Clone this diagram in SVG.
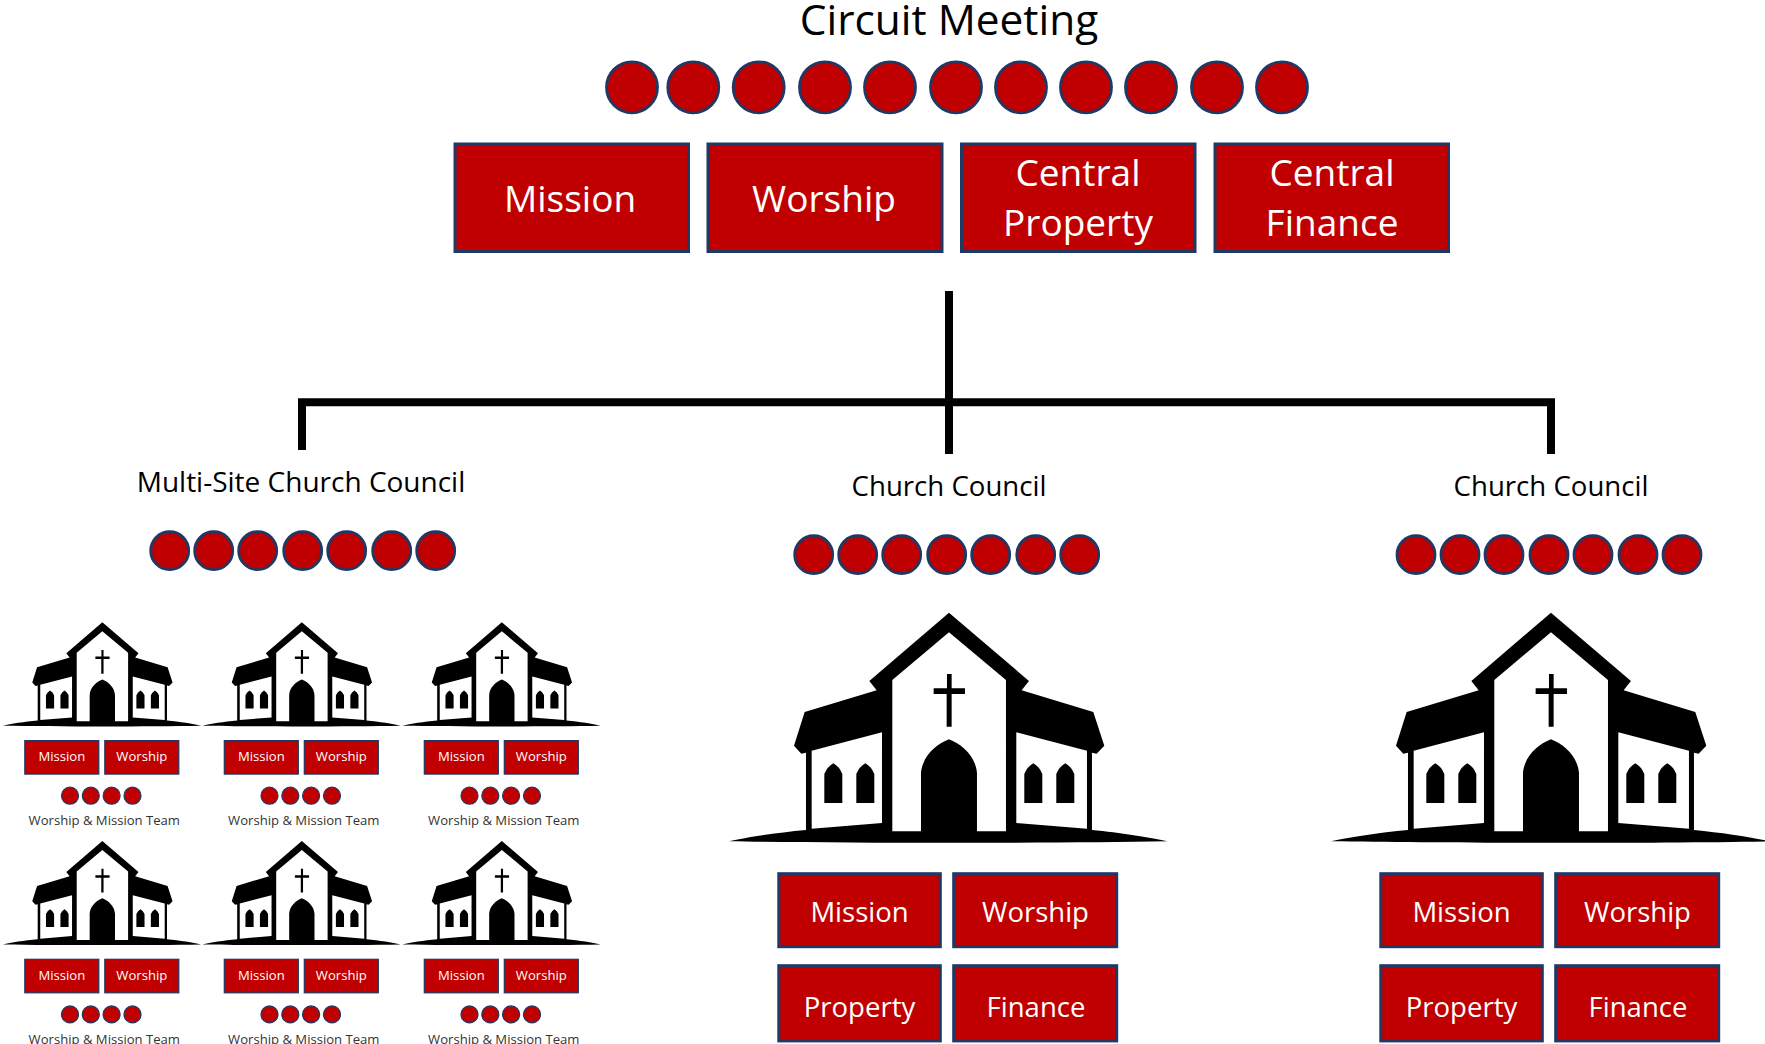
<svg xmlns="http://www.w3.org/2000/svg" xmlns:xlink="http://www.w3.org/1999/xlink" width="1765" height="1044" viewBox="0 0 1765 1044">
<style>
text{font-family:"Open Sans","Noto Sans","Liberation Sans",sans-serif;text-anchor:middle}
.b{fill:#c00000;stroke:#1f3864;stroke-width:3}
.s{fill:#c00000;stroke:#1f3864;stroke-width:1.2}
.c{fill:#c00000;stroke:#1f3864;stroke-width:2.8}
.w{fill:#fff}
.k{fill:#000}
.line{fill:none;stroke:#000;stroke-width:8}
.t37{font-size:37px;fill:#fff}
.t27{font-size:27.500px;fill:#fff}
.t13{font-size:13.100px;fill:#fff}
</style>
<defs>
<g id="church">
<path class="k" d="M687 38L927 243L905 271L1120 336L1153 437L1130 461L1116 458L1116 690C1200 698 1290 712 1342 724C1000 730 380 730 27 724C80 712 170 698 258 690L258 458L244 461L222 437L254 336L470 271L448 243Z"/>
<path class="w" d="M687 97L858 240L858 694L771 694L771 520C768 470 725 432 687 418C649 432 606 470 603 520L603 694L517 694L517 240Z"/>
<path class="w" d="M486 397L486 669L275 686L275 452Z"/>
<path class="w" d="M889 397L889 669L1101 686L1101 452Z"/>
<path class="k" d="M681 222H695V265H735V282H695V380H680V282H641V265H681Z"/>
<path class="k" d="M313 609V522Q322 500 340 490Q358 500 367 522V609Z M409 609V522Q418 500 436 490Q454 500 463 522V609Z M913 609V522Q922 500 940 490Q958 500 967 522V609Z M1009 609V522Q1018 500 1036 490Q1054 500 1063 522V609Z"/>
</g>
<g id="mini">
<use xlink:href="#church" href="#church" transform="translate(-103.5 -5.7) scale(0.1507)"/>
<rect class="s" x="-77.500" y="118.300" width="74" height="33.500"/>
<rect class="s" x="2.500" y="118.300" width="74" height="33.500"/>
<text class="t13" x="-40.500" y="138.800">Mission</text>
<text class="t13" x="39.500" y="138.800">Worship</text>
<circle class="s" cx="-32.300" cy="173.400" r="8.500"/>
<circle class="s" cx="-11.500" cy="173.400" r="8.500"/>
<circle class="s" cx="9.300" cy="173.400" r="8.500"/>
<circle class="s" cx="30.200" cy="173.400" r="8.500"/>
<text x="2" y="202.700" font-size="13.100" fill="#333">Worship &amp; Mission Team</text>
</g>
<g id="dots7">
<circle class="c" cx="-133" cy="0" r="19"/><circle class="c" cx="-89" cy="0" r="19"/><circle class="c" cx="-45" cy="0" r="19"/><circle class="c" cx="0" cy="0" r="19"/><circle class="c" cx="44" cy="0" r="19"/><circle class="c" cx="89" cy="0" r="19"/><circle class="c" cx="133" cy="0" r="19"/>
</g>
<g id="quad">
<rect class="b" x="-170.200" y="0.700" width="161.500" height="73"/><rect class="b" x="4.700" y="0.700" width="163" height="73"/><rect class="b" x="-170.200" y="92.700" width="161.500" height="75.200"/><rect class="b" x="4.700" y="92.700" width="163" height="75.200"/>
<text class="t27" x="-89.500" y="49.300">Mission</text><text class="t27" x="86.500" y="49.300">Worship</text><text class="t27" x="-89.500" y="143.700">Property</text><text class="t27" x="87" y="143.700">Finance</text>
</g>
</defs>
<rect width="1765" height="1044" fill="#fff"/>
<g id="connectors">
<path class="line" d="M949 291V454M302 450V402.300H1551V454"/>
</g>
<g id="circuit-meeting">
<text x="949" y="35" font-size="42.400">Circuit Meeting</text>
<g>
<circle class="c" cx="632" cy="87.300" r="25.500"/><circle class="c" cx="693.300" cy="87.300" r="25.500"/><circle class="c" cx="758.700" cy="87.300" r="25.500"/><circle class="c" cx="825" cy="87.300" r="25.500"/><circle class="c" cx="890" cy="87.300" r="25.500"/><circle class="c" cx="956" cy="87.300" r="25.500"/><circle class="c" cx="1021" cy="87.300" r="25.500"/><circle class="c" cx="1086" cy="87.300" r="25.500"/><circle class="c" cx="1151" cy="87.300" r="25.500"/><circle class="c" cx="1217" cy="87.300" r="25.500"/><circle class="c" cx="1282" cy="87.300" r="25.500"/>
</g>
</g>
<g id="circuit-mission"><rect class="b" x="455" y="144" width="233.500" height="107.500"/><text class="t37" x="570" y="212">Mission</text></g>
<g id="circuit-worship"><rect class="b" x="708" y="144" width="234" height="107.500"/><text class="t37" x="824" y="212">Worship</text></g>
<g id="circuit-property"><rect class="b" x="961.500" y="144" width="233.500" height="107.500"/><text class="t37" x="1078" y="186">Central</text><text class="t37" x="1078" y="236">Property</text></g>
<g id="circuit-finance"><rect class="b" x="1215" y="144" width="233.500" height="107.500"/><text class="t37" x="1332" y="186">Central</text><text class="t37" x="1332" y="236">Finance</text></g>
<g id="multi-site-council">
<text x="301" y="491.700" font-size="28">Multi-Site Church Council</text>
<use xlink:href="#dots7" href="#dots7" transform="translate(302.700 550.700)"/>
</g>
<g id="site-1"><use xlink:href="#mini" href="#mini" transform="translate(102.300 622.300)"/></g>
<g id="site-2"><use xlink:href="#mini" href="#mini" transform="translate(301.800 622.300)"/></g>
<g id="site-3"><use xlink:href="#mini" href="#mini" transform="translate(501.800 622.300)"/></g>
<g id="site-4"><use xlink:href="#mini" href="#mini" transform="translate(102.300 841)"/></g>
<g id="site-5"><use xlink:href="#mini" href="#mini" transform="translate(301.800 841)"/></g>
<g id="site-6"><use xlink:href="#mini" href="#mini" transform="translate(501.800 841)"/></g>
<g id="church-council-1">
<text x="949" y="496" font-size="27.600">Church Council</text>
<use xlink:href="#dots7" href="#dots7" transform="translate(946.700 554.700)"/>
<use xlink:href="#church" href="#church" transform="translate(720 600) scale(0.3333)"/>
<use xlink:href="#quad" href="#quad" transform="translate(949 873)"/>
</g>
<g id="church-council-2">
<text x="1551" y="496" font-size="27.600">Church Council</text>
<use xlink:href="#dots7" href="#dots7" transform="translate(1549 554.700)"/>
<use xlink:href="#church" href="#church" transform="translate(1322 600) scale(0.3333)"/>
<use xlink:href="#quad" href="#quad" transform="translate(1551 873)"/>
</g>
</svg>
